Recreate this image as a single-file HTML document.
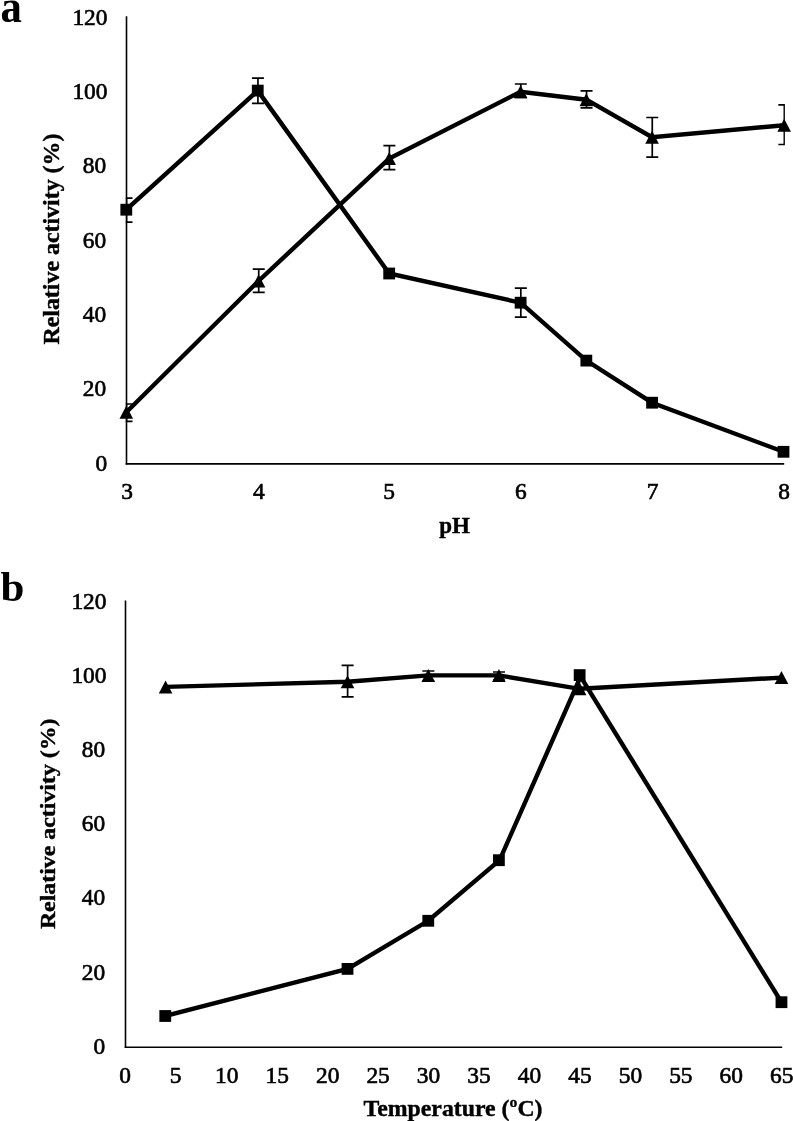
<!DOCTYPE html>
<html lang="en"><head><meta charset="utf-8"><title>Figure</title>
<style>html,body{margin:0;padding:0;background:#fff}svg{display:block}text{font-family:"Liberation Serif","DejaVu Serif",serif;fill:#000}.t{font-size:23.4px;stroke:#000;stroke-width:.65px}.b{font-size:23px;font-weight:bold;stroke:#000;stroke-width:.4px}.p{font-size:42px;font-weight:bold}.ax{stroke:#000;stroke-width:1.6;fill:none}.ln{stroke:#000;stroke-width:4.4;fill:none;stroke-linejoin:miter;stroke-linecap:butt}.eb{stroke:#000;stroke-width:1.7;fill:none}</style></head><body>
<svg width="793" height="1121" viewBox="0 0 793 1121">
<rect width="793" height="1121" fill="#fff"/>
<clipPath id="ca"><rect x="125.8" y="0" width="659.1" height="470"/></clipPath>
<path class="ax" d="M126.5 16.3V464.6"/><path class="ax" stroke="#222" d="M125.7 463.9H784.2"/>
<text class="t" x="107.2" y="470.5" text-anchor="end">0</text>
<text class="t" x="106.2" y="396.2" text-anchor="end">20</text>
<text class="t" x="106.2" y="321.9" text-anchor="end">40</text>
<text class="t" x="106.2" y="247.6" text-anchor="end">60</text>
<text class="t" x="106.2" y="173.3" text-anchor="end">80</text>
<text class="t" x="107.5" y="99" text-anchor="end">100</text>
<text class="t" x="107.5" y="24.7" text-anchor="end">120</text>
<text class="t" x="127.1" y="499" text-anchor="middle">3</text>
<text class="t" x="258.94" y="499" text-anchor="middle">4</text>
<text class="t" x="389.08" y="499" text-anchor="middle">5</text>
<text class="t" x="520.92" y="499" text-anchor="middle">6</text>
<text class="t" x="652.56" y="499" text-anchor="middle">7</text>
<text class="t" x="784.1" y="499" text-anchor="middle">8</text>
<text class="b" x="454.5" y="533" text-anchor="middle">pH</text>
<text class="b" style="font-size:22.6px" transform="translate(59.2 239.1) rotate(-90) scale(1.058 1)" text-anchor="middle">Relative activity (%)</text>
<text class="p" style="font-size:46.5px" transform="translate(0.4 21.5) scale(0.92 1)">a</text>
<g clip-path="url(#ca)">
<path class="eb" d="M126.5 198.2V222.2M120.5 198.2H132.5M120.5 222.2H132.5"/>
<path class="eb" d="M257.94 78.2V103.4M251.94 78.2H263.94M251.94 103.4H263.94"/>
<path class="eb" d="M520.82 288.1V317.1M514.82 288.1H526.82M514.82 317.1H526.82"/>
<path class="eb" d="M126.5 404V421.4M120.5 404H132.5M120.5 421.4H132.5"/>
<path class="eb" d="M258.73 269.2V292.4M252.73 269.2H264.73M252.73 292.4H264.73"/>
<path class="eb" d="M389.38 145.7V169.7M383.38 145.7H395.38M383.38 169.7H395.38"/>
<path class="eb" d="M520.82 84V97.5M514.82 84H526.82M514.82 97.5H526.82"/>
<path class="eb" d="M586.54 90.8V107.9M580.54 90.8H592.54M580.54 107.9H592.54"/>
<path class="eb" d="M652.26 117.5V157.1M646.26 117.5H658.26M646.26 157.1H658.26"/>
<path class="eb" d="M784.36 104.9V144.5M778.36 104.9H790.36M778.36 144.5H790.36"/>
</g>
<polyline class="ln" points="126.3,209.7 257.74,90.6 389.18,273.5 520.62,302.7 586.34,360.6 652.06,402.7 783.5,451.8"/>
<polyline class="ln" points="126.3,412.2 258.53,281 389.18,158.6 520.62,91.7 586.34,99.7 652.06,137.2 784.16,125.2"/>
<rect x="120.4" y="203.8" width="11.8" height="11.8"/>
<rect x="251.84" y="84.7" width="11.8" height="11.8"/>
<rect x="383.28" y="267.6" width="11.8" height="11.8"/>
<rect x="514.72" y="296.8" width="11.8" height="11.8"/>
<rect x="580.44" y="354.7" width="11.8" height="11.8"/>
<rect x="646.16" y="396.8" width="11.8" height="11.8"/>
<rect x="777.6" y="445.9" width="11.8" height="11.8"/>
<path d="M126.3 405.7L133.1 418.7L119.5 418.7Z"/>
<path d="M258.53 274.5L265.33 287.5L251.73 287.5Z"/>
<path d="M389.18 152.1L395.98 165.1L382.38 165.1Z"/>
<path d="M520.62 85.2L527.42 98.2L513.82 98.2Z"/>
<path d="M586.34 93.2L593.14 106.2L579.54 106.2Z"/>
<path d="M652.06 130.7L658.86 143.7L645.26 143.7Z"/>
<path d="M784.16 118.7L790.96 131.7L777.36 131.7Z"/>
<path class="ax" d="M125.5 600.4V1048"/><path class="ax" stroke="#222" d="M124.7 1047.2H782.2"/>
<text class="t" x="105.2" y="1053.9" text-anchor="end">0</text>
<text class="t" x="105.2" y="979.67" text-anchor="end">20</text>
<text class="t" x="105.2" y="905.43" text-anchor="end">40</text>
<text class="t" x="105.2" y="831.2" text-anchor="end">60</text>
<text class="t" x="105.2" y="756.97" text-anchor="end">80</text>
<text class="t" x="106.5" y="682.73" text-anchor="end">100</text>
<text class="t" x="106.5" y="608.5" text-anchor="end">120</text>
<text class="t" x="125.1" y="1082.9" text-anchor="middle">0</text>
<text class="t" x="175.56" y="1082.9" text-anchor="middle">5</text>
<text class="t" x="226.72" y="1082.9" text-anchor="middle">10</text>
<text class="t" x="277.18" y="1082.9" text-anchor="middle">15</text>
<text class="t" x="327.64" y="1082.9" text-anchor="middle">20</text>
<text class="t" x="378.1" y="1082.9" text-anchor="middle">25</text>
<text class="t" x="428.56" y="1082.9" text-anchor="middle">30</text>
<text class="t" x="479.02" y="1082.9" text-anchor="middle">35</text>
<text class="t" x="529.48" y="1082.9" text-anchor="middle">40</text>
<text class="t" x="579.94" y="1082.9" text-anchor="middle">45</text>
<text class="t" x="630.4" y="1082.9" text-anchor="middle">50</text>
<text class="t" x="680.86" y="1082.9" text-anchor="middle">55</text>
<text class="t" x="731.32" y="1082.9" text-anchor="middle">60</text>
<text class="t" x="781.78" y="1082.9" text-anchor="middle">65</text>
<text class="b" transform="translate(453 1116) scale(1.035 1)" text-anchor="middle">Temperature (ºC)</text>
<text class="b" style="font-size:22px" transform="translate(55.2 823.8) rotate(-90) scale(1.085 1)" text-anchor="middle">Relative activity (%)</text>
<text class="p" style="font-size:43px" x="0.6" y="601.2">b</text>
<path class="eb" d="M347.62 665.4V696.9M341.62 665.4H353.62M341.62 696.9H353.62"/>
<path class="eb" d="M428.36 671V681M422.36 671H434.36M422.36 681H434.36"/>
<path class="eb" d="M499 672V680M493 672H505M493 680H505"/>
<polyline class="ln" points="165.26,1016 347.52,968.9 428.26,920.8 499.6,860.2 581.24,675.1"/>
<polyline class="ln" points="579.64,675.1 781.48,1002.2"/>
<polyline class="ln" points="165.57,686.9 347.52,681.8 428.26,675.4 498.9,675.4 579.64,688.8 781.48,677.6"/>
<rect x="159.36" y="1010.1" width="11.8" height="11.8"/>
<rect x="341.62" y="963" width="11.8" height="11.8"/>
<rect x="422.36" y="914.9" width="11.8" height="11.8"/>
<rect x="493" y="854.3" width="11.8" height="11.8"/>
<rect x="573.74" y="669.2" width="11.8" height="11.8"/>
<rect x="775.58" y="996.3" width="11.8" height="11.8"/>
<path d="M165.57 680.4L172.37 693.4L158.77 693.4Z"/>
<path d="M347.52 675.3L354.32 688.3L340.72 688.3Z"/>
<path d="M428.26 668.9L435.06 681.9L421.46 681.9Z"/>
<path d="M498.9 668.9L505.7 681.9L492.1 681.9Z"/>
<path d="M579.64 682.3L586.44 695.3L572.84 695.3Z"/>
<path d="M781.48 671.1L788.28 684.1L774.68 684.1Z"/>
</svg></body></html>
